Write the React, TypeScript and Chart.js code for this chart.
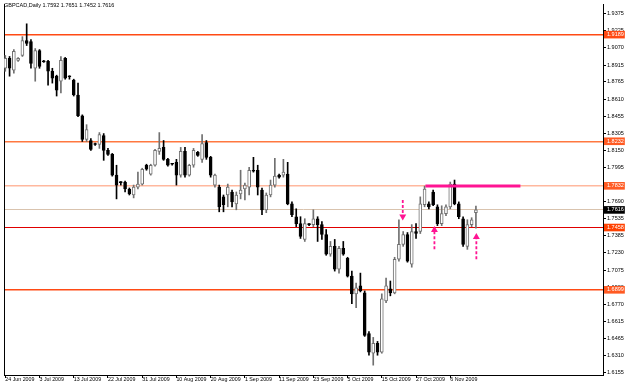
import React, { useEffect, useRef } from 'react';
import { Chart, registerables } from 'chart.js';

Chart.register(...registerables);

// ---- data ----
const opens = [
  1.8887, 1.8976, 1.8869, 1.8958, 1.9002, 1.9135, 1.9126, 1.8887, 1.9046, 1.8953,
  1.8949, 1.8860, 1.8816, 1.8771, 1.8976, 1.8816, 1.8780, 1.8647, 1.8461, 1.8248,
  1.8239, 1.8208, 1.8203, 1.8283, 1.8150, 1.8114, 1.7928, 1.7866, 1.7866, 1.7804,
  1.7750, 1.7821, 1.7848, 1.8017, 1.7937, 1.8017, 1.8141, 1.8177, 1.8070, 1.8030,
  1.8043, 1.7928, 1.8141, 1.7928, 1.8017, 1.8132, 1.8070, 1.8221, 1.8088, 1.7839,
  1.7821, 1.7733, 1.7750, 1.7777, 1.7670, 1.7759, 1.7804, 1.7821, 1.7972, 1.7972,
  1.7795, 1.7617, 1.7750, 1.7839, 1.7928, 1.7928, 1.7937, 1.7670, 1.7555, 1.7493,
  1.7351, 1.7488, 1.7484, 1.7537, 1.7484, 1.7395, 1.7218, 1.7289, 1.7085, 1.7271,
  1.7182, 1.7022, 1.6863, 1.6934, 1.6871, 1.6507, 1.6330, 1.6419, 1.6339, 1.6800,
  1.6907, 1.6871, 1.7173, 1.7307, 1.7395, 1.7129, 1.7422, 1.7422, 1.7662, 1.7670,
  1.7777, 1.7644, 1.7493, 1.7582, 1.7644, 1.7848, 1.7670, 1.7537, 1.7289, 1.7484,
  1.7592,
];
const highs = [
  1.9002, 1.8993, 1.9055, 1.8984, 1.9171, 1.9286, 1.9144, 1.9064, 1.9055, 1.8958,
  1.8958, 1.8887, 1.8825, 1.8993, 1.8984, 1.8820, 1.8789, 1.8754, 1.8469, 1.8381,
  1.8256, 1.8216, 1.8310, 1.8301, 1.8168, 1.8123, 1.8017, 1.7870, 1.7875, 1.7813,
  1.7839, 1.7955, 1.7990, 1.8026, 1.8026, 1.8159, 1.8310, 1.8239, 1.8079, 1.8034,
  1.8070, 1.8177, 1.8177, 1.8026, 1.8168, 1.8141, 1.8292, 1.8239, 1.8097, 1.7937,
  1.7839, 1.7750, 1.7848, 1.7795, 1.7777, 1.7972, 1.7857, 1.7999, 1.8088, 1.8017,
  1.7813, 1.7768, 1.7884, 1.8079, 1.7937, 1.8070, 1.8043, 1.7688, 1.7626, 1.7555,
  1.7537, 1.7493, 1.7617, 1.7555, 1.7511, 1.7440, 1.7333, 1.7351, 1.7289, 1.7333,
  1.7191, 1.7067, 1.6960, 1.7049, 1.6889, 1.6525, 1.6472, 1.6436, 1.6863, 1.7005,
  1.6978, 1.7191, 1.7528, 1.7422, 1.7413, 1.7484, 1.7493, 1.7733, 1.7830, 1.7688,
  1.7795, 1.7662, 1.7653, 1.7662, 1.7866, 1.7884, 1.7688, 1.7555, 1.7528, 1.7546,
  1.7651,
];
const lows = [
  1.8860, 1.8816, 1.8842, 1.8949, 1.8993, 1.9091, 1.8887, 1.8771, 1.8887, 1.8940,
  1.8736, 1.8754, 1.8638, 1.8665, 1.8789, 1.8789, 1.8638, 1.8452, 1.8230, 1.8230,
  1.8150, 1.8194, 1.8168, 1.8061, 1.8105, 1.7919, 1.7715, 1.7839, 1.7777, 1.7750,
  1.7724, 1.7804, 1.7839, 1.7972, 1.7928, 1.8008, 1.8114, 1.8061, 1.8008, 1.8017,
  1.7839, 1.7910, 1.7910, 1.7919, 1.7999, 1.8097, 1.8043, 1.8070, 1.7910, 1.7821,
  1.7599, 1.7599, 1.7644, 1.7644, 1.7617, 1.7715, 1.7706, 1.7750, 1.7955, 1.7750,
  1.7573, 1.7591, 1.7733, 1.7821, 1.7901, 1.7910, 1.7662, 1.7555, 1.7466, 1.7360,
  1.7333, 1.7475, 1.7466, 1.7333, 1.7351, 1.7209, 1.7200, 1.7067, 1.7049, 1.7209,
  1.7014, 1.6774, 1.6738, 1.6880, 1.6481, 1.6312, 1.6223, 1.6312, 1.6330, 1.6783,
  1.6845, 1.6863, 1.7156, 1.7289, 1.7147, 1.7102, 1.7360, 1.7404, 1.7644, 1.7626,
  1.7653, 1.7475, 1.7475, 1.7564, 1.7626, 1.7662, 1.7537, 1.7289, 1.7262, 1.7466,
  1.7452,
];
const closes = [
  1.8976, 1.8887, 1.9038, 1.8976, 1.9135, 1.9109, 1.8931, 1.9046, 1.8904, 1.8944,
  1.8860, 1.8798, 1.8691, 1.8958, 1.8798, 1.8811, 1.8647, 1.8461, 1.8248, 1.8336,
  1.8159, 1.8203, 1.8292, 1.8150, 1.8114, 1.7928, 1.7839, 1.7861, 1.7804, 1.7759,
  1.7821, 1.7848, 1.7981, 1.7981, 1.8017, 1.8150, 1.8168, 1.8070, 1.8017, 1.8026,
  1.7928, 1.8141, 1.7928, 1.8017, 1.8150, 1.8105, 1.8212, 1.8088, 1.7928, 1.7928,
  1.7644, 1.7662, 1.7821, 1.7688, 1.7750, 1.7795, 1.7839, 1.7972, 1.7963, 1.7821,
  1.7617, 1.7750, 1.7839, 1.7919, 1.7910, 1.7955, 1.7670, 1.7573, 1.7493, 1.7378,
  1.7493, 1.7484, 1.7537, 1.7484, 1.7395, 1.7218, 1.7289, 1.7085, 1.7271, 1.7218,
  1.7022, 1.6863, 1.6916, 1.6889, 1.6490, 1.6339, 1.6419, 1.6339, 1.6818, 1.6934,
  1.6871, 1.7173, 1.7307, 1.7395, 1.7156, 1.7422, 1.7404, 1.7670, 1.7804, 1.7644,
  1.7662, 1.7493, 1.7582, 1.7644, 1.7848, 1.7670, 1.7555, 1.7307, 1.7484, 1.7528,
  1.7616,
];

const xTickLabels = [
  '24 Jun 2009', '3 Jul 2009', '13 Jul 2009', '22 Jul 2009', '31 Jul 2009',
  '10 Aug 2009', '20 Aug 2009', '1 Sep 2009', '11 Sep 2009', '23 Sep 2009',
  '5 Oct 2009', '15 Oct 2009', '27 Oct 2009', '6 Nov 2009',
];
const barsPerXLabel = 8;

const yTickLabels = [
  '1.9375', '1.9225', '1.9070', '1.8915', '1.8765', '1.8610', '1.8455', '1.8305',
  '1.8150', '1.7995', '1.7840', '1.7690', '1.7535', '1.7385', '1.7230', '1.7075',
  '1.6920', '1.6770', '1.6615', '1.6465', '1.6310', '1.6155',
];

// horizontal levels drawn on the chart, with their price-axis labels
const levelLabels = ['1.9189', '1.8232', '1.7832', '1.7616', '1.7458', '1.6899'];
const levelLineColors = ['#FF4A14', '#FF7840', '#FFB89E', '#D9C3AE', '#E00000', '#FF4A14'];
const levelBoxColors = ['#FF4A14', '#FF5A22', '#FF5A22', '#000000', '#FF4000', '#FF5A22'];
const levelLineWidths = [1.5, 1.5, 1.5, 1, 1, 1.5];

// magenta resistance segment (bar positions) and arrows
const segmentBars = [98.2, 120.4];
const segmentPrice = 1.783;
const arrowBars = [92.9, 100.3, 110.1];
const arrowTails = [1.7706, 1.7262, 1.7173];
const arrowHeads = [1.7558, 1.7436, 1.7374];
const arrowPointsDown = [true, false, false];

const titleText = 'GBPCAD,Daily 1.7592 1.7651 1.7452 1.7616';
const yMin = 1.61346;
const yMax = 1.94638;

const FONT = "'Liberation Sans', Arial, sans-serif";
const BULL_EDGE = '#707070';
const BEAR = '#000000';
const MAGENTA = '#FF1493';

export default function App() {
  const canvasRef = useRef<HTMLCanvasElement | null>(null);

  useEffect(() => {
    const canvas = canvasRef.current;
    if (!canvas) return;
    const isBull = (i: number) => closes[i] >= opens[i];
    const yTickValues = yTickLabels.map((s) => parseFloat(s));
    const levelValues = levelLabels.map((s) => parseFloat(s));
    const nY = yTickValues.length;

    const titlePlugin = {
      id: 'mtTitle',
      afterDraw(chart: any) {
        const ctx = chart.ctx;
        ctx.save();
        ctx.font = `5.5px ${FONT}`;
        ctx.fillStyle = '#000';
        ctx.textBaseline = 'top';
        ctx.textAlign = 'left';
        ctx.fillText(titleText, 4, 3);
        ctx.restore();
      },
    };

    const datasets: any[] = [
      {
        type: 'bar',
        label: 'wicks',
        xAxisID: 'x',
        yAxisID: 'y',
        data: opens.map((_, i) => ({ x: i, y: [lows[i], highs[i]] })),
        backgroundColor: opens.map((_, i) => (isBull(i) ? BULL_EDGE : BEAR)),
        borderWidth: 0,
        barThickness: 1,
        grouped: false,
        order: 3,
      },
      {
        type: 'bar',
        label: 'bodies',
        xAxisID: 'x',
        yAxisID: 'y',
        data: opens.map((o, i) => ({ x: i, y: [o, closes[i]] })),
        backgroundColor: opens.map((_, i) => (isBull(i) ? '#FFFFFF' : BEAR)),
        borderColor: opens.map((_, i) => (isBull(i) ? BULL_EDGE : BEAR)),
        borderWidth: 1,
        borderSkipped: false,
        barThickness: 3,
        minBarLength: 1,
        grouped: false,
        order: 2,
      },
      {
        type: 'line',
        label: 'segment',
        xAxisID: 'x',
        yAxisID: 'y',
        data: segmentBars.map((b) => ({ x: b, y: segmentPrice })),
        borderColor: MAGENTA,
        borderWidth: 3,
        pointRadius: 0,
        tension: 0,
        order: 0,
      },
      ...arrowBars.map((b, k) => ({
        type: 'line',
        label: 'arrow' + k,
        xAxisID: 'x',
        yAxisID: 'y',
        data: [
          { x: b, y: arrowTails[k] },
          { x: b, y: arrowHeads[k] },
        ],
        borderColor: MAGENTA,
        borderWidth: 1.8,
        borderDash: [3, 2],
        pointRadius: [0, 4],
        pointStyle: 'triangle',
        pointRotation: arrowPointsDown[k] ? 180 : 0,
        pointBackgroundColor: MAGENTA,
        pointBorderColor: MAGENTA,
        pointBorderWidth: 0,
        tension: 0,
        order: 0,
      })),
    ];

    const chart = new Chart(canvas, {
      type: 'bar',
      data: { datasets },
      options: {
        animation: false,
        responsive: false,
        maintainAspectRatio: false,
        events: [],
        layout: { padding: 0 },
        plugins: { legend: { display: false }, tooltip: { enabled: false }, title: { display: false } },
        scales: {
          x: {
            type: 'linear',
            min: -0.3,
            max: 139.7,
            offset: false,
            afterBuildTicks: (s: any) => {
              s.ticks = xTickLabels.map((_, k) => ({ value: k * barsPerXLabel }));
            },
            afterFit: (s: any) => {
              s.height = 9;
              s.paddingLeft = 0;
              s.paddingRight = 0;
            },
            grid: {
              display: true,
              drawOnChartArea: false,
              drawTicks: true,
              tickLength: 3,
              color: '#000',
              offset: false,
            },
            border: { display: true, color: '#000', width: 1 },
            ticks: {
              autoSkip: false,
              maxRotation: 0,
              minRotation: 0,
              align: 'start',
              padding: -1,
              color: '#000',
              font: { family: FONT, size: 5.3, lineHeight: 1 },
              callback: (_v: any, idx: number) => xTickLabels[idx],
            },
          },
          y: {
            type: 'linear',
            position: 'right',
            min: yMin,
            max: yMax,
            afterBuildTicks: (s: any) => {
              s.ticks = [...yTickValues, ...levelValues].map((v) => ({ value: v }));
            },
            afterFit: (s: any) => {
              s.width = 22;
              s.paddingTop = 0;
              s.paddingBottom = 0;
            },
            grid: {
              display: true,
              drawOnChartArea: true,
              drawTicks: true,
              tickLength: 3,
              color: (ctx: any) => (ctx.index >= nY ? levelLineColors[ctx.index - nY] : 'rgba(0,0,0,0)'),
              tickColor: (ctx: any) => (ctx.index >= nY ? levelBoxColors[ctx.index - nY] : '#000'),
              lineWidth: (ctx: any) => (ctx.index >= nY ? levelLineWidths[ctx.index - nY] : 1),
            },
            border: { display: true, color: '#000', width: 1 },
            ticks: {
              autoSkip: false,
              padding: 1,
              font: { family: FONT, size: 5.5, lineHeight: 1.2 },
              color: (ctx: any) => (ctx.index >= nY ? '#FFFFFF' : '#000000'),
              showLabelBackdrop: (ctx: any) => ctx.index >= nY,
              backdropColor: (ctx: any) => (ctx.index >= nY ? levelBoxColors[ctx.index - nY] : 'rgba(0,0,0,0)'),
              backdropPadding: { left: 3, right: 1, top: 0.5, bottom: 0.5 },
              callback: (_v: any, idx: number) => (idx >= nY ? levelLabels[idx - nY] : yTickLabels[idx]),
            },
          },
          yl: {
            type: 'linear',
            position: 'left',
            display: true,
            afterFit: (s: any) => {
              s.width = 2;
              s.paddingTop = 0;
              s.paddingBottom = 0;
            },
            grid: { display: false, drawTicks: false },
            ticks: { display: false },
            border: { display: true, color: '#000', width: 1 },
          },
        },
      } as any,
      plugins: [titlePlugin],
    });

    return () => {
      chart.destroy();
    };
  }, []);

  return (
    <div style={{ position: 'fixed', left: 0, top: 0, width: 625, height: 384, background: '#FFFFFF' }}>
      <canvas ref={canvasRef} width={625} height={384} style={{ display: 'block', width: 625, height: 384 }} />
    </div>
  );
}
